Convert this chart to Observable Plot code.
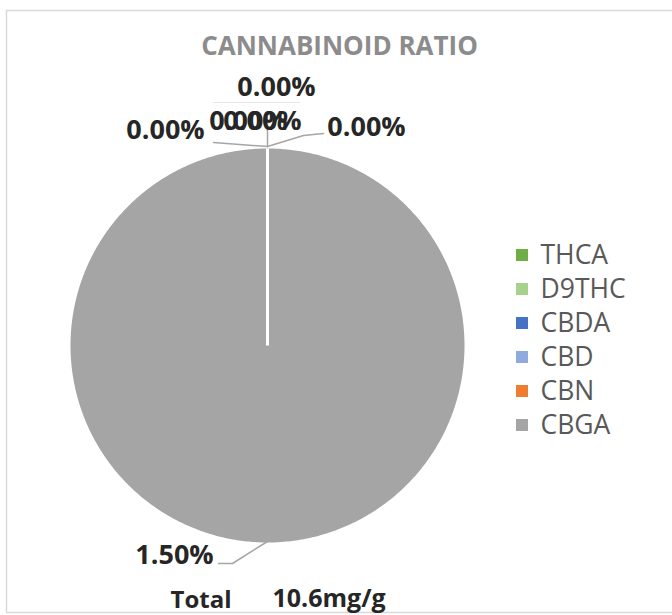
<!DOCTYPE html>
<html><head><meta charset="utf-8">
<script src="https://cdn.jsdelivr.net/npm/d3@7"></script>
<script src="https://cdn.jsdelivr.net/npm/@observablehq/plot@0.6"></script>
<style>body{margin:0;background:#fff;} #chart svg{display:block;}</style>
</head><body><div id="chart"></div>
<script>
// ---- data ----
const title = "CANNABINOID RATIO";
const slices = ["THCA", "D9THC", "CBDA", "CBD", "CBN", "CBGA"];
const values = [0, 0, 0, 0, 0, 1.50];
const colors = ["#70ad47", "#a9d18e", "#4472c4", "#8faadc", "#ed7d31", "#a5a5a5"];
const totalLabel = "Total";
const totalValue = "10.6mg/g";

// ---- layout ----
const W = 672, H = 615, cx = 267, cy = 345, R = 197;
const pie = d3.pie().sort(null).value(d => d)(values);
const pt = (a, r) => [cx + r * Math.sin(a), cy - r * Math.cos(a)];

const polys = [];
pie.forEach((p, i) => {
  const span = p.endAngle - p.startAngle;
  if (span <= 0) return;
  const n = Math.max(2, Math.ceil(span / 0.01));
  polys.push({slice: slices[i], x: cx, y: cy});
  for (let k = 0; k <= n; k++) {
    const [x, y] = pt(p.startAngle + span * k / n, R);
    polys.push({slice: slices[i], x, y});
  }
  polys.push({slice: slices[i], x: cx, y: cy});
});

// white slice separators
const sepAngles = Array.from(new Set(pie.filter(p => p.endAngle > p.startAngle).map(p => p.startAngle % (2 * Math.PI))));
const seps = sepAngles.map(a => { const [x2, y2] = pt(a, R); return {x1: cx, y1: cy, x2, y2}; });

// label placement offsets (px, relative to the slice's outer mid point)
const labelOffsets = [[-19, -27], [-102, -18], [9, -61], [-5, -27], [99, -21], [-93, 13]];
const leaderOffsets = [
  [[0, -28], [0, -2]],
  [[-54, -6], [0, -2]],
  null,
  null,
  [[56, -15], [36, -13], [0, -2]],
  [[-49, 21], [-35, 21], [0, -1]]
];
const labels = pie.map((p, i) => {
  const mid = (p.startAngle + p.endAngle) / 2;
  const [ax, ay] = pt(mid, R);
  return {slice: slices[i], text: values[i].toFixed(2) + "%", x: ax + labelOffsets[i][0], y: ay + labelOffsets[i][1], ax, ay};
});
const leaders = [];
labels.forEach((l, i) => {
  const off = leaderOffsets[i];
  if (!off) return;
  off.forEach(([dx, dy]) => leaders.push({slice: l.slice, x: l.ax + dx, y: l.ay + dy}));
});

const legend = slices.map((s, i) => ({slice: s, x: 522, y: 255 + i * 34}));

const plot = Plot.plot({
  width: W, height: H,
  margin: 0,
  x: {domain: [0, W], range: [0, W], axis: null},
  y: {domain: [0, H], range: [0, H], axis: null},
  color: {domain: slices, range: colors},
  style: {background: "#fff"},
  marks: [
    Plot.ruleY([10, 612], {x1: 6, x2: W, stroke: "#d9d9d9", strokeWidth: 1.5}),
    Plot.ruleX([6], {y1: 10, y2: 612, stroke: "#d9d9d9", strokeWidth: 1.5}),
    Plot.text([title], {x: 339, y: 46, text: d => d, fill: "#8c8c8c", fontSize: 26, fontWeight: "bold", fontFamily: "Open Sans", textAnchor: "middle"}),
    Plot.line(polys, {x: "x", y: "y", z: "slice", fill: "slice", stroke: "none"}),
    Plot.link(seps, {x1: "x1", y1: "y1", x2: "x2", y2: "y2", stroke: "#fff", strokeWidth: 3}),
    Plot.ruleY([102], {x1: 213, x2: 300, stroke: "#e6e6e6", strokeWidth: 1}),
    Plot.line(leaders, {x: "x", y: "y", z: "slice", stroke: "#a6a6a6", strokeWidth: 1.5}),
    Plot.text(labels, {x: "x", y: "y", text: "text", fill: "#262626", fontSize: 27, fontWeight: "bold", fontFamily: "Open Sans", textAnchor: "middle"}),
    Plot.rect(legend, {x1: d => d.x - 6, x2: d => d.x + 6, y1: d => d.y - 6, y2: d => d.y + 6, fill: "slice"}),
    Plot.text(legend, {x: d => d.x + 18, y: "y", text: "slice", fill: "#595959", fontSize: 26.5, fontFamily: "Open Sans", textAnchor: "start"}),
    Plot.text([totalLabel], {x: 170, y: 600, text: d => d, fill: "#262626", fontSize: 24, fontWeight: "bold", fontFamily: "Open Sans", textAnchor: "start"}),
    Plot.text([totalValue], {x: 272, y: 598, text: d => d, fill: "#262626", fontSize: 25, fontWeight: "bold", fontFamily: "Open Sans", textAnchor: "start"})
  ]
});
document.getElementById("chart").appendChild(plot);
</script>
</body></html>
